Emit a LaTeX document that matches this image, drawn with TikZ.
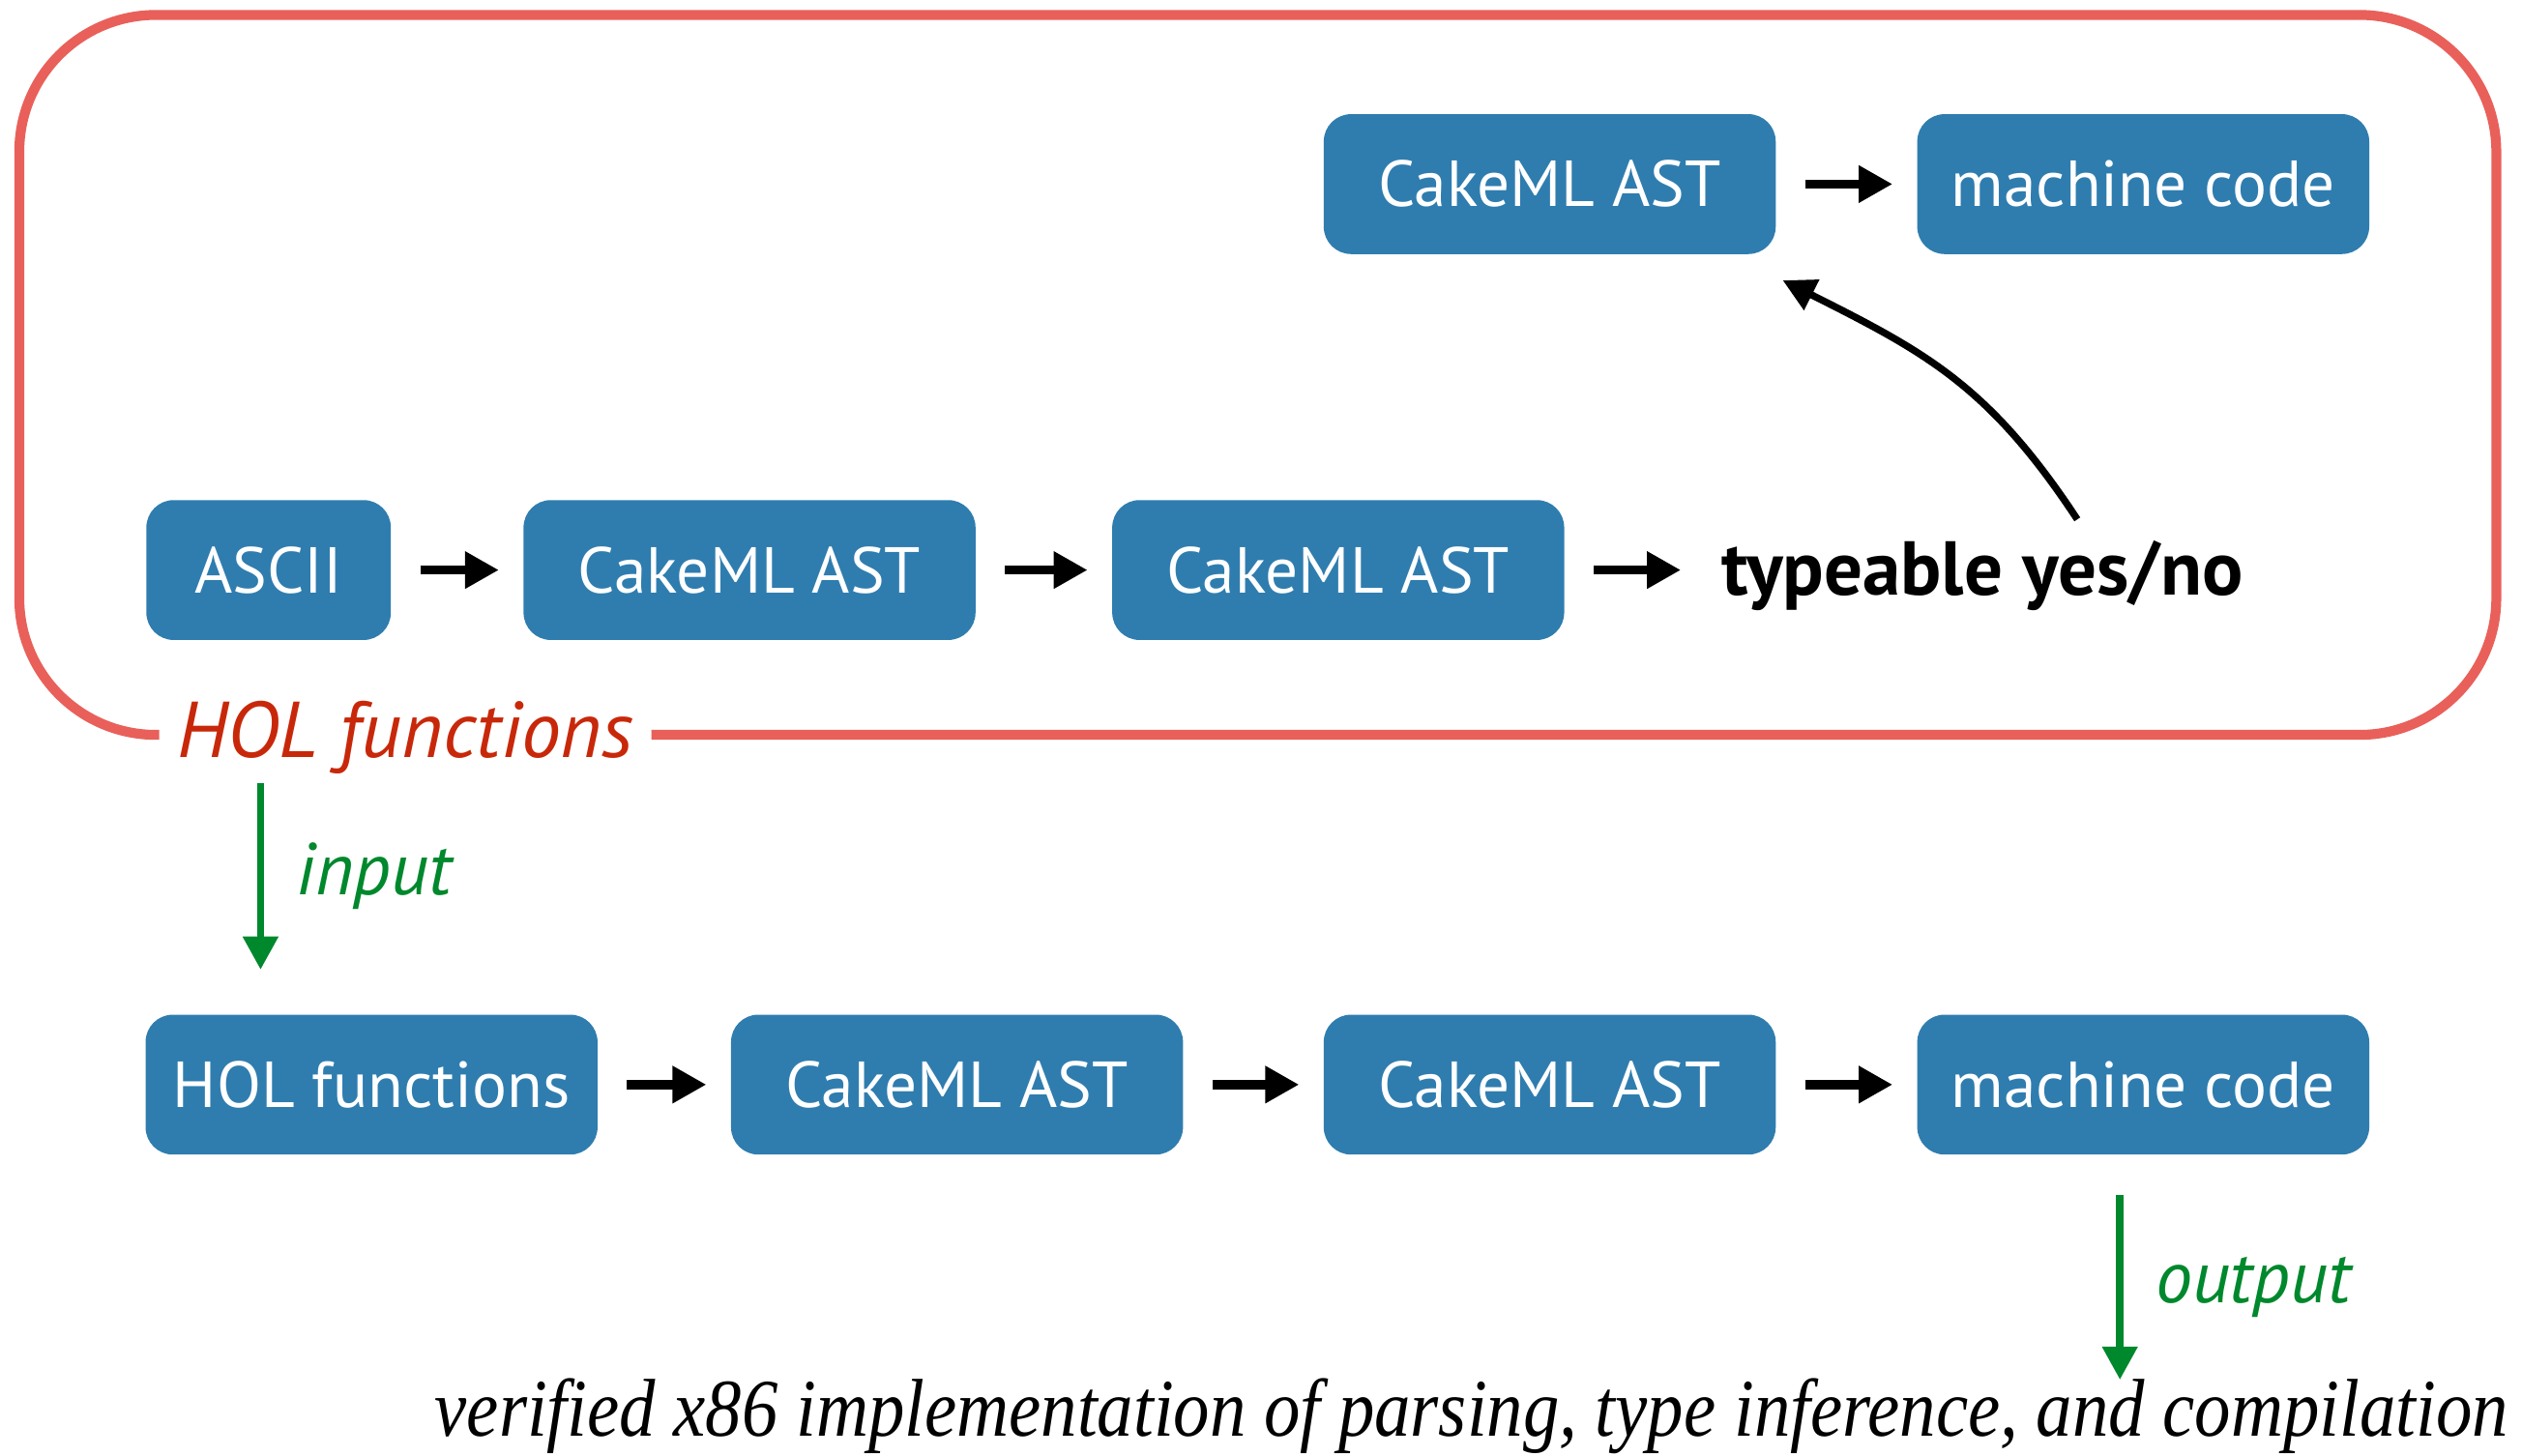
\documentclass[tikz,border=0pt]{standalone}
\usepackage{graphicx}
\usepackage{fontspec}
\setmainfont{PT Sans}
\newfontfamily\captionserif{Liberation Serif}
\usepackage{tikz}
\usetikzlibrary{arrows.meta,positioning,calc}
\usepackage{xcolor}

\definecolor{boxblue}{RGB}{47,125,175}
\definecolor{framered}{RGB}{233,96,90}
\definecolor{labelred}{RGB}{200,40,10}
\definecolor{flowgreen}{RGB}{0,136,45}

\tikzset{
  stage/.style={fill=boxblue, rounded corners=3.4mm, text=white, minimum width=56.2mm, minimum height=17.4mm, inner sep=0pt, font=\fontsize{23}{26}\selectfont},
  flow/.style={-{Triangle[length=12pt,width=12.5pt]}, line width=3.2pt, shorten <=3.6mm, shorten >=3mm},
  io/.style={-{Triangle[length=11.7pt,width=12pt]}, line width=2.6pt, draw=flowgreen},
  iolabel/.style={midway, anchor=west, xshift=4mm, inner sep=0pt, text=flowgreen, font=\itshape\fontsize{26}{28}\selectfont}
}

\begin{document}
\begin{tikzpicture}[x=0.2mm, y=0.2mm]
\useasboundingbox (0,0) rectangle (1568,905);
% frame round the HOL part
\draw[framered, line width=3.5pt, rounded corners=17mm] (405,448) -- (1552,448) -- (1552,895.7) -- (12,895.7) -- (12,448) -- (99,448);
\node[anchor=base, text=labelred, font=\itshape\fontsize{28}{30}\selectfont] (hol) at (252,434) {HOL functions};

% top row
\node[stage] (top1) at (963.5,790.5) {CakeML AST};
\node[stage] (top2) at (1332.5,790.5) {machine code};
\draw[flow] (top1) -- (top2);

% middle row
\node[stage, minimum width=30.4mm] (ascii) at (167,550.5) {ASCII};
\node[stage] (mid1) at (466,550.5) {CakeML AST};
\node[stage] (mid2) at (832,550.5) {CakeML AST};
\node[anchor=base west, inner sep=0pt, font=\bfseries\fontsize{27}{30}\selectfont] (typ) at (1070,535) {typeable yes/no};
\draw[flow] (ascii) -- (mid1);
\draw[flow] (mid1) -- (mid2);
\draw[flow, shorten >=5mm] (mid2.east) -- (mid2.east -| typ.west);
\coordinate (tstart) at (1291.5,582);
\draw[-{Triangle[length=11.5pt,width=11.5pt]}, line width=2.5pt] (tstart) .. controls (1236.5,665.5) and (1197,686) .. ($(top1.south east)+(4,-16)$);

% bottom row
\node[stage] (bot1) at (231,230.5) {HOL functions};
\node[stage] (bot2) at (595,230.5) {CakeML AST};
\node[stage] (bot3) at (963.5,230.5) {CakeML AST};
\node[stage] (bot4) at (1332.5,230.5) {machine code};
\draw[flow] (bot1) -- (bot2);
\draw[flow] (bot2) -- (bot3);
\draw[flow] (bot3) -- (bot4);

% in and out
\coordinate (in1) at (162,418);
\coordinate (in2) at (162,302);
\draw[io] (in1) -- node[iolabel] {input} (in2);
\coordinate (out1) at (1318,162);
\coordinate (out2) at (1318,47);
\draw[io] (out1) -- node[iolabel] {output} (out2);
\node[anchor=base west, inner sep=0pt] (verified) at (270,12) {\captionserif\itshape\fontsize{29}{32}\selectfont\scalebox{0.882}[1]{verified x86 implementation of parsing, type inference, and compilation}};
\end{tikzpicture}
\end{document}
